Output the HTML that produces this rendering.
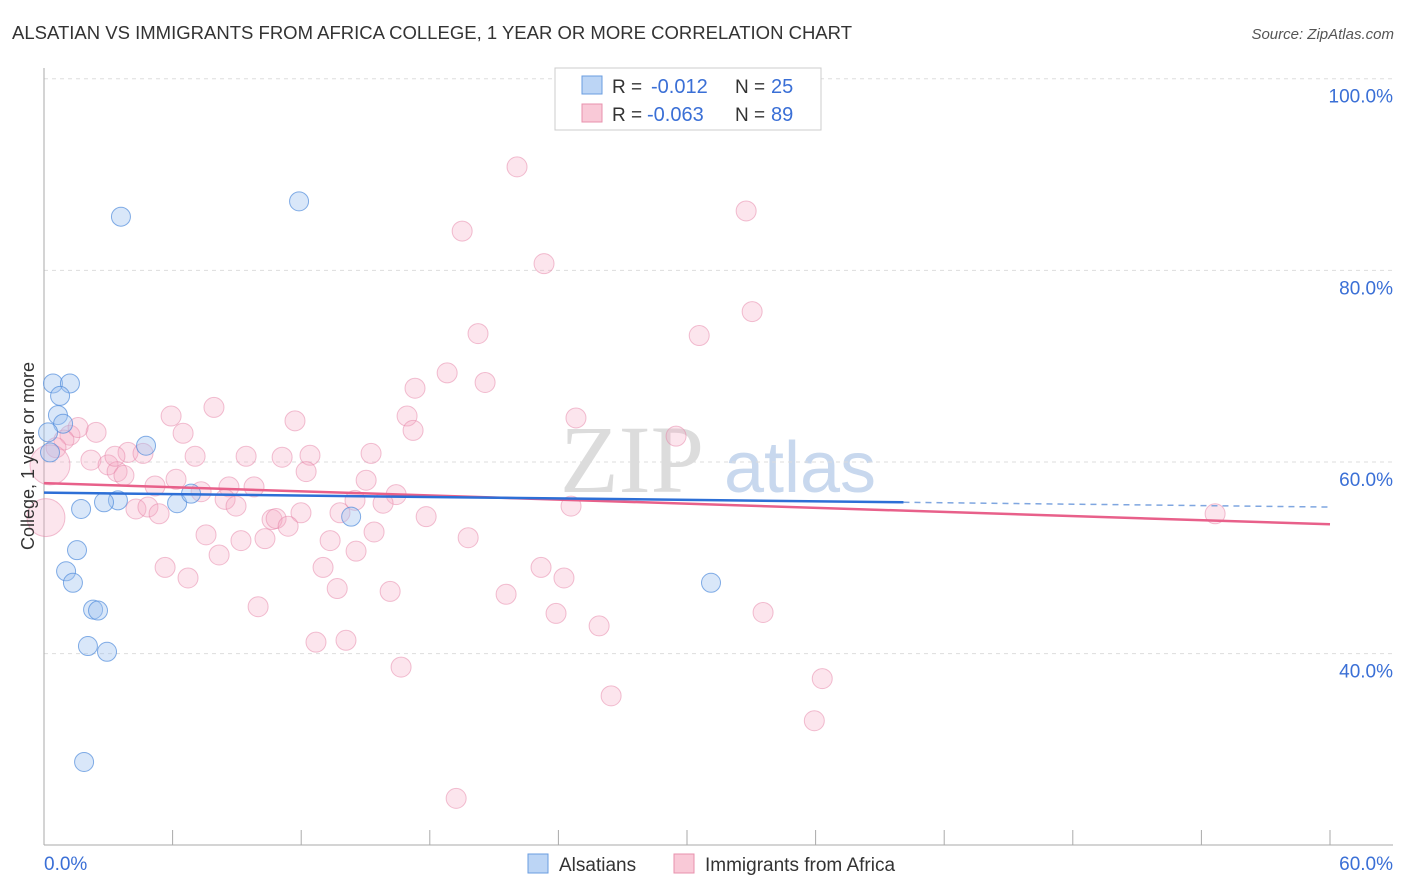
<!DOCTYPE html>
<html><head><meta charset="utf-8">
<style>
body{margin:0;background:#fff;font-family:"Liberation Sans",sans-serif;}
svg{display:block}
</style></head>
<body>
<svg id="chart" width="1406" height="892">
<text x="12" y="39" font-size="18" fill="#333" textLength="840" lengthAdjust="spacingAndGlyphs">ALSATIAN VS IMMIGRANTS FROM AFRICA COLLEGE, 1 YEAR OR MORE CORRELATION CHART</text>
<text x="1394" y="39" font-size="15" fill="#555" font-style="italic" text-anchor="end">Source: ZipAtlas.com</text>
<g>
<text x="632" y="492" font-size="96" fill="#dcdcdc" font-family="Liberation Serif,serif" text-anchor="middle">ZIP</text>
<text x="800" y="492" font-size="72" fill="#c8d8ee" text-anchor="middle">atlas</text>
</g>
<g id="grid"></g>
<g id="axes"></g>
<g id="marks"></g>
<text transform="translate(34,456) rotate(-90)" font-size="18" fill="#333" text-anchor="middle">College, 1 year or more</text>
<g>
<rect x="555" y="68" width="266" height="62" fill="#fff" stroke="#ccc"/>
<rect x="582" y="76" width="20" height="18" fill="#bcd5f5" stroke="#6a9de0"/>
<rect x="582" y="104" width="20" height="18" fill="#f9c9d7" stroke="#e891ad"/>
<text x="612" y="93" font-size="19" fill="#333">R =</text>
<text x="651" y="93" font-size="20" fill="#3a6fd6">-0.012</text>
<text x="735" y="93" font-size="19" fill="#333">N =</text>
<text x="771" y="93" font-size="20" fill="#3a6fd6">25</text>
<text x="612" y="121" font-size="19" fill="#333">R =</text>
<text x="647" y="121" font-size="20" fill="#3a6fd6">-0.063</text>
<text x="735" y="121" font-size="19" fill="#333">N =</text>
<text x="771" y="121" font-size="20" fill="#3a6fd6">89</text>
</g>
<g>
<rect x="528" y="854" width="20" height="19" fill="#bcd5f5" stroke="#6a9de0"/>
<text x="559" y="871" font-size="19" fill="#333">Alsatians</text>
<rect x="674" y="854" width="20" height="19" fill="#f9c9d7" stroke="#e891ad"/>
<text x="705" y="871" font-size="19" fill="#333">Immigrants from Africa</text>
</g>
</svg>
<script>
const yTicks=[40,60,80,100];
const yTickLabels=["40.0%","60.0%","80.0%","100.0%"];
const xTickLabels=["0.0%","60.0%"];
const blueX=[3.59,11.9,0.42,1.21,0.75,0.65,0.89,0.19,0.28,4.76,1.73,3.45,2.8,6.21,6.86,14.33,1.54,1.03,1.35,2.29,2.52,2.05,2.94,1.87,31.12];
const blueY=[85.6,87.2,68.2,68.2,66.9,64.9,64.0,63.1,61.0,61.7,55.1,56.0,55.8,55.7,56.7,54.3,50.8,48.6,47.4,44.6,44.5,40.8,40.2,28.7,47.4];
const pinkX=[22.07,32.76,19.51,23.33,33.04,30.57,20.25,18.81,20.58,17.31,7.93,5.93,11.71,16.94,24.82,17.22,29.49,6.49,2.43,1.21,1.59,0.93,0.56,0.28,0.09,2.19,2.99,3.41,3.73,3.92,4.62,3.31,7.05,9.43,11.11,12.41,15.26,12.23,15.03,6.16,5.18,7.33,8.63,9.8,8.45,8.96,16.43,14.51,15.82,4.29,4.85,5.37,11.99,13.81,24.59,54.64,10.64,10.83,11.39,17.83,15.4,7.56,9.19,10.31,13.35,19.79,8.17,14.56,13.02,5.65,23.19,6.72,24.26,13.68,16.15,21.56,9.99,23.89,33.55,25.9,12.69,14.09,16.66,36.31,26.46,35.94,19.23];
const pinkY=[90.8,86.2,84.1,80.7,75.7,73.2,73.4,69.3,68.3,67.7,65.7,64.8,64.3,64.8,64.6,63.3,62.7,63.0,63.1,62.8,63.6,62.3,61.5,59.7,54.2,60.2,59.7,59.0,58.6,61.0,60.9,60.6,60.6,60.6,60.5,60.7,60.9,59.0,58.1,58.2,57.5,56.9,57.4,57.4,56.1,55.4,56.6,56.0,55.7,55.1,55.3,54.6,54.7,54.7,55.4,54.6,54.0,54.1,53.3,54.3,52.7,52.4,51.8,52.0,51.8,52.1,50.3,50.7,49.0,49.0,49.0,47.9,47.9,46.8,46.5,46.2,44.9,44.2,44.3,42.9,41.2,41.4,38.6,37.4,35.6,33.0,24.9];
const pinkR=[10,10,10,10,10,10,10,10,10,10,10,10,10,10,10,10,10,10,10,10,10,10,10,20,19,10,10,10,10,10,10,10,10,10,10,10,10,10,10,10,10,10,10,10,10,10,10,10,10,10,10,10,10,10,10,10,10,10,10,10,10,10,10,10,10,10,10,10,10,10,10,10,10,10,10,10,10,10,10,10,10,10,10,10,10,10,10];
const blueTrend=[[0,56.8],[40.1,55.8],[60,55.3]];
const pinkTrend=[[0,57.8],[60,53.5]];
const NS="http://www.w3.org/2000/svg";
const X=v=>44+v/60*1286, Y=v=>1037-v*9.583;
function mk(tag,attrs,parent){const e=document.createElementNS(NS,tag);for(const k in attrs)e.setAttribute(k,attrs[k]);document.getElementById(parent).appendChild(e);return e;}
yTicks.forEach((t,i)=>{
 const l=mk('line',{x1:44,x2:1393,y1:Y(t),y2:Y(t),stroke:'#ddd','stroke-dasharray':'4,4'},'grid');
 
 
 const tx=mk('text',{x:1393,y:Y(t)+24,'font-size':19,fill:'#3a6fd6','text-anchor':'end'},'axes');
 tx.textContent=yTickLabels[i];
 
 
});
const ax=mk('line',{x1:44,x2:44,y1:68,y2:845,stroke:'#aaa'},'axes');


const bx=mk('line',{x1:44,x2:1393,y1:845,y2:845,stroke:'#aaa'},'axes');


for(let i=0;i<=10;i++){const t=mk('line',{x1:X(i*6),x2:X(i*6),y1:830,y2:845,stroke:'#aaa'},'axes');
 
 }
[[0,'start',44],[1,'end',1393]].forEach(([i,a,x])=>{const t=mk('text',{x:x,y:870,'font-size':19,fill:'#3a6fd6','text-anchor':a},'axes');t.textContent=xTickLabels[i];
 
 });
pinkX.forEach((v,i)=>{const c=mk('circle',{cx:X(v),cy:Y(pinkY[i]),r:pinkR[i],fill:'rgba(245,170,195,0.3)',stroke:'rgba(230,130,165,0.5)'},'marks');
 
 });
blueX.forEach((v,i)=>{const c=mk('circle',{cx:X(v),cy:Y(blueY[i]),r:9.5,fill:'rgba(160,195,240,0.4)',stroke:'rgba(80,140,220,0.7)'},'marks');
 
 });
const pl=mk('line',{x1:X(pinkTrend[0][0]),y1:Y(pinkTrend[0][1]),x2:X(pinkTrend[1][0]),y2:Y(pinkTrend[1][1]),stroke:'#e8608a','stroke-width':2.5},'marks');


const bl=mk('line',{x1:X(blueTrend[0][0]),y1:Y(blueTrend[0][1]),x2:X(blueTrend[1][0]),y2:Y(blueTrend[1][1]),stroke:'#2d6fd6','stroke-width':2.5},'marks');


const bd=mk('line',{x1:X(blueTrend[1][0]),y1:Y(blueTrend[1][1]),x2:X(blueTrend[2][0]),y2:Y(blueTrend[2][1]),stroke:'#7fa6e0','stroke-width':1.5,'stroke-dasharray':'6,5'},'marks');


</script>
</body></html>
